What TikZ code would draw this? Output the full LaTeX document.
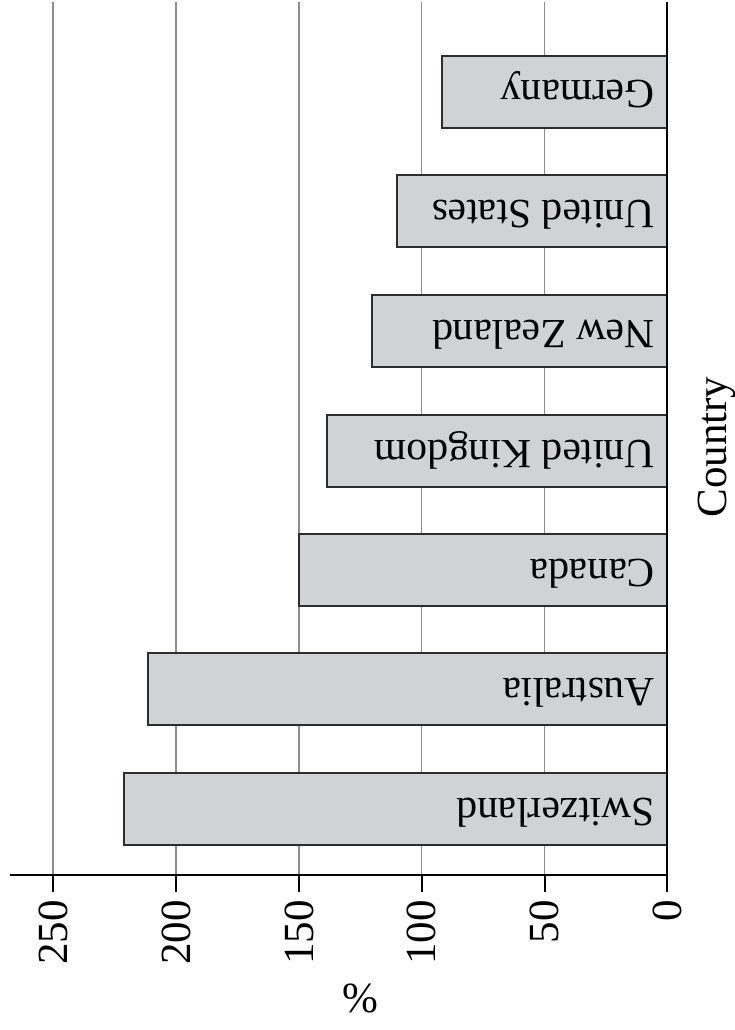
\documentclass[tikz,border=0pt]{standalone}
\usepackage{fontspec}
\setmainfont{Liberation Serif}
\definecolor{barfill}{RGB}{209,210,212}
\definecolor{gridgray}{RGB}{140,140,140}
\definecolor{barline}{RGB}{45,45,45}
\begin{document}
\begin{tikzpicture}[x=1pt,y=-1pt,
  gridline/.style={draw=gridgray, line width=1.4pt},
  axisline/.style={draw=black, line width=2pt},
  barbox/.style={draw=barline, line width=2pt, fill=barfill},
  barlabel/.style={rotate=180, anchor=base west, inner sep=0pt, font=\fontsize{41.5}{48}\selectfont},
  ticklabel/.style={rotate=90, anchor=east, inner sep=0pt, font=\fontsize{43}{50}\selectfont},
  axislabel/.style={inner sep=0pt, font=\fontsize{43}{50}\selectfont},
]
\useasboundingbox (0,0) rectangle (735,1030);
\fill[white] (0,0) rectangle (735,1030);
% grid lines
\foreach \x in {53,176,299,421.7,544.7}
  \draw[gridline] (\x,2) -- (\x,874.5);
% bars
\foreach \l/\t/\name in {442/56/Germany,397/175/United States,372/295/New Zealand,327/415/United Kingdom,299/534/Canada,148/653/Australia,124/773/Switzerland}{
  \draw[barbox] (\l,\t) rectangle (667,\t+72);
  \node[barlabel] at (655,\t+25) {\name};
}
% axes
\draw[axisline] (667,2) -- (667,892);
\draw[axisline] (10,874.5) -- (667,874.5);
\foreach \x in {53,176,299,421.7,544.7}
  \draw[axisline] (\x,874.5) -- (\x,892);
% tick labels
\node[ticklabel] (t0) at (667,900) {0};
\node[ticklabel] (t50) at (544.7,900) {50};
\node[ticklabel] (t100) at (421.7,900) {100};
\node[ticklabel] (t150) at (299,900) {150};
\node[ticklabel] (t200) at (176,900) {200};
\node[ticklabel] (t250) at (53,900) {250};
% axis titles
\node[axislabel, rotate=90, anchor=base] (country) at (726,447) {Country};
\node[axislabel] (pct) at (360,998) {\%};
\end{tikzpicture}
\end{document}
